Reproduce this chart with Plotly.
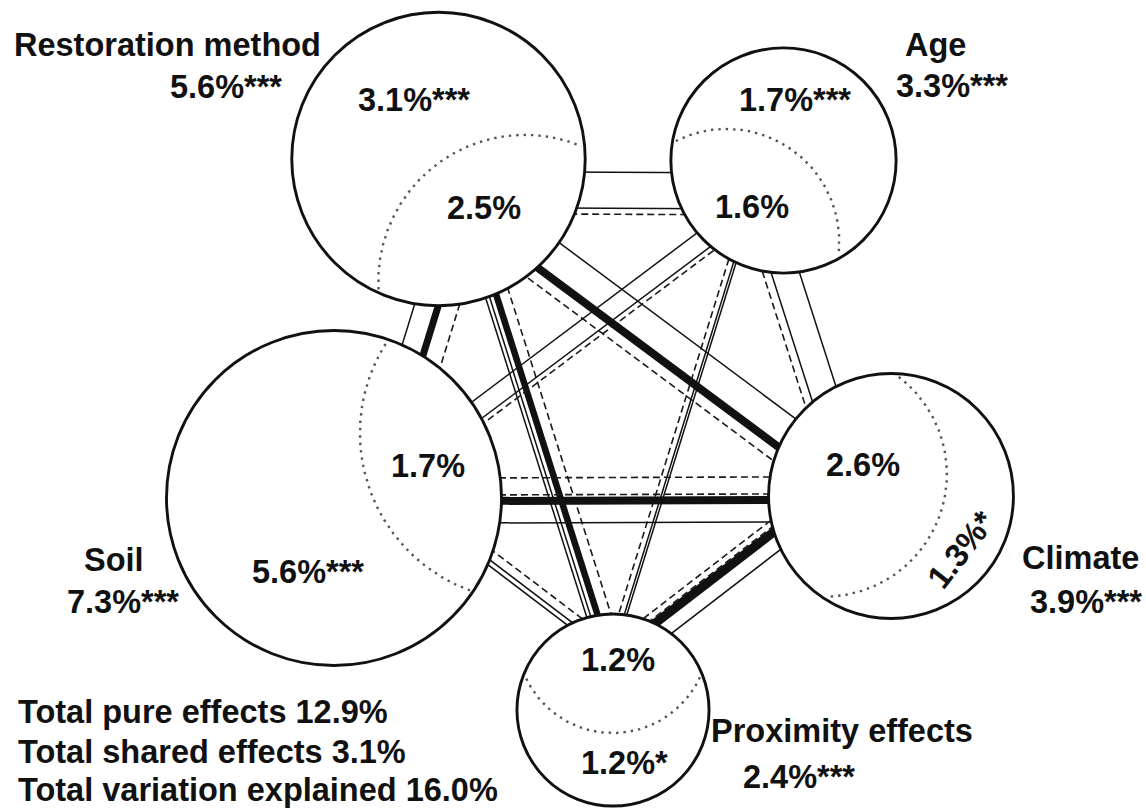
import numpy as np
import plotly.graph_objects as go

# ---------------- data ----------------
keys        = ["R", "A", "C", "P", "S"]
group_names = ["Restoration method", "Age", "Climate", "Proximity effects", "Soil"]
total_pct   = [5.6, 3.3, 3.9, 2.4, 7.3]
total_sig   = ["***", "***", "***", "***", "***"]
pure_pct    = [3.1, 1.7, 1.3, 1.2, 5.6]
pure_sig    = ["***", "***", "*", "*", "***"]
shared_pct  = [2.5, 1.6, 2.6, 1.2, 1.7]

summary_names  = ["Total pure effects", "Total shared effects", "Total variation explained"]
summary_values = [12.9, 3.1, 16.0]

# connections drawn between groups and their line type
link_from = ["R", "R", "R", "R", "R", "R", "R", "R", "R", "R", "R", "R", "R",
             "A", "A", "A", "A", "A", "A", "A", "A", "A",
             "S", "S", "S", "S", "S", "S", "S", "C", "C", "C", "C"]
link_to   = ["A", "A", "A", "S", "S", "S", "C", "C", "C", "P", "P", "P", "P",
             "S", "S", "S", "C", "C", "C", "P", "P", "P",
             "C", "C", "C", "C", "P", "P", "P", "P", "P", "P", "P"]
link_kind = ["thin", "thin", "dash", "thin", "thick", "dash", "thin", "thick", "dash",
             "thin", "thin", "thick", "dash",
             "thin", "thin", "dash", "thin", "thin", "dash", "thin", "thin", "dash",
             "thin", "thick", "dash", "dash", "thin", "thin", "dash",
             "thin", "thick", "dash", "dash"]

# ---------------- layout (positions / sizes / styles) ----------------
W, H = 1146, 809
centre = {"R": (438.5, 159.0), "A": (783.5, 160.5), "C": (891.0, 496.0),
          "P": (613.0, 710.0), "S": (334.0, 498.0)}
radius_per_sqrt_pct = 62.0
dotted_shift = {"R": 150, "A": 99, "C": 70, "P": 73, "S": 204}
link_offset = [12.5, 48.5, 54.5, 20, 43, 63, -5, 28, 42, 3, 7, 14, 27,
               6, 25, 30, 19, 46, 54, 15, 17.5, 23,
               -25.5, -3.5, 2.5, 19.5, 40, 45, 54, 25, 43, 48, 54]
thick_width = {("R", "S"): 7, ("R", "C"): 8, ("R", "P"): 6.5, ("S", "C"): 8, ("C", "P"): 9}

name_pos   = {"R": (167, 45), "A": (935, 45), "C": (1080, 558), "P": (842, 731), "S": (114, 560)}
total_pos  = {"R": (226, 87), "A": (952, 86), "C": (1086, 602), "P": (799, 777), "S": (123, 602)}
pure_pos   = {"R": (414, 100), "A": (795, 100), "C": (961, 550), "P": (624, 763), "S": (308, 572)}
pure_angle = {"R": 0, "A": 0, "C": -52, "P": 0, "S": 0}
shared_pos = {"R": (484, 208), "A": (752, 207), "C": (863, 465), "P": (618, 660), "S": (428, 466)}
summary_x, summary_y = 17, [712, 752, 790]

FONT = "Liberation Sans, Arial, Helvetica, sans-serif"
FS = 32.5
INK = "#111111"

radius = {k: radius_per_sqrt_pct * np.sqrt(v) for k, v in zip(keys, total_pct)}
cen = np.array([centre[k] for k in keys]).mean(axis=0)

fig = go.Figure()
shapes = []

# connection lines (drawn first, circles cover their inner parts)
for a, b, kind, off in zip(link_from, link_to, link_kind, link_offset):
    pa, pb = np.array(centre[a]), np.array(centre[b])
    d = (pb - pa) / np.linalg.norm(pb - pa)
    n = np.array([-d[1], d[0]])
    if np.dot(n, cen - (pa + pb) / 2) < 0:
        n = -n
    p0, p1 = pa + off * n, pb + off * n
    if kind == "thick":
        line = dict(color=INK, width=thick_width[(a, b)])
    elif kind == "dash":
        line = dict(color="#1a1a1a", width=1.6, dash="7px,4px")
    else:
        line = dict(color=INK, width=1.5)
    shapes.append(dict(type="line", xref="x", yref="y", x0=p0[0], y0=p0[1],
                       x1=p1[0], y1=p1[1], line=line, layer="below"))

# circles
for k in keys:
    cx, cy = centre[k]
    r = radius[k]
    shapes.append(dict(type="circle", xref="x", yref="y", x0=cx - r, x1=cx + r,
                       y0=cy - r, y1=cy + r, fillcolor="white",
                       line=dict(color=INK, width=2.9), layer="below"))

# dotted arcs separating pure and shared parts
for k in keys:
    c = np.array(centre[k])
    r = radius[k]
    u = (cen - c) / np.linalg.norm(cen - c)
    q = c + dotted_shift[k] * u
    base = np.arctan2(-u[1], -u[0])
    t = np.linspace(-np.pi, np.pi, 2400)
    px = q[0] + r * np.cos(base + t)
    py = q[1] + r * np.sin(base + t)
    inside = np.hypot(px - c[0], py - c[1]) <= r - 3
    fig.add_trace(go.Scatter(x=px[inside], y=py[inside], mode="lines",
                             line=dict(color="#555555", width=2.4, dash="2.4px,5px"),
                             hoverinfo="skip", showlegend=False))

annotations = []
def txt(x, y, s, angle=0, xanchor="center"):
    annotations.append(dict(x=x, y=y, xref="x", yref="y", text="<b>" + s + "</b>",
                            showarrow=False, xanchor=xanchor, yanchor="middle",
                            textangle=angle, borderpad=0,
                            font=dict(family=FONT, size=FS, color=INK)))

for i, k in enumerate(keys):
    txt(*name_pos[k], group_names[i])
    txt(*total_pos[k], f"{total_pct[i]:.1f}%{total_sig[i]}")
    txt(*pure_pos[k], f"{pure_pct[i]:.1f}%{pure_sig[i]}", angle=pure_angle[k])
    txt(*shared_pos[k], f"{shared_pct[i]:.1f}%")

for name, v, y in zip(summary_names, summary_values, summary_y):
    txt(summary_x, y, f"{name} {v:.1f}%", xanchor="left")

fig.update_layout(
    width=W, height=H, margin=dict(l=0, r=0, t=0, b=0),
    paper_bgcolor="white", plot_bgcolor="white",
    xaxis=dict(range=[0, W], visible=False, fixedrange=True),
    yaxis=dict(range=[H, 0], visible=False, fixedrange=True),
    shapes=shapes, annotations=annotations, showlegend=False,
)

fig.write_html("out.html", config={"displayModeBar": False},
               post_script="document.body.style.margin='0';document.body.style.overflow='hidden';")
